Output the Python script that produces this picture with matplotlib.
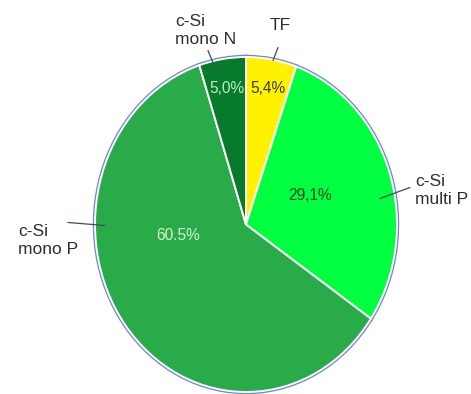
import matplotlib.pyplot as plt

# data (clockwise from 12 o'clock)
labels = ["TF", "c-Si\nmulti P", "c-Si\nmono P", "c-Si\nmono N"]
shares = [5.4, 29.1, 60.5, 5.0]
pct_text = ["5,4%", "29,1%", "60.5%", "5,0%"]
colors = ["#fff200", "#00ff40", "#2aab4a", "#087a2c"]
pct_colors = ["#3a3a10", "#0b4a1c", "#d8f5d0", "#b8f0b8"]

plt.rcParams['font.family'] = ['Liberation Sans', 'DejaVu Sans']

fig = plt.figure(figsize=(4.71, 3.94), dpi=100)
# elliptical pie: axes stretched, aspect auto
ax = fig.add_axes([95 / 471, 2 / 394, 302 / 471, 335 / 394])

# blue outline underneath, white separators on top
ax.pie(shares, colors=colors, startangle=90, counterclock=False,
       wedgeprops=dict(edgecolor="#7383d0", linewidth=3.2))
ax.pie(shares, colors=colors, startangle=90, counterclock=False,
       wedgeprops=dict(edgecolor="white", linewidth=1.4))
ax.set_aspect('auto')
ax.set_xlim(-1, 1)
ax.set_ylim(-1, 1)
ax.axis('off')

# percentage labels inside the wedges
pct_pos = [(0.146, 0.81), (0.424, 0.173), (-0.45, -0.066), (-0.126, 0.81)]
for t, (x, y), c in zip(pct_text, pct_pos, pct_colors):
    ax.text(x, y, t, ha='center', va='center', fontsize=11.2, color=c)

# category labels with leader lines
lab_pos = [(0.225, 1.188), (1.119, 0.203), (-1.510, -0.096), (-0.470, 1.158)]
lab_ha = ['center', 'left', 'left', 'left']
line_from = [(0.212, 1.057), (1.086, 0.221), (-1.179, 0.012), (-0.252, 1.039)]
line_to = [(0.179, 0.979), (0.887, 0.155), (-0.934, -0.006), (-0.205, 0.937)]
for lab, (x, y), ha in zip(labels, lab_pos, lab_ha):
    ax.text(x, y, lab, ha=ha, va='center', fontsize=12.5, color="#2e2e2e",
            linespacing=1.25)
for p0, p1 in zip(line_from, line_to):
    ax.annotate("", xy=p1, xytext=p0,
                arrowprops=dict(arrowstyle='-', color="#3a4a6a", lw=0.9,
                                shrinkA=0, shrinkB=0))

fig.savefig("out.png", dpi=100)
